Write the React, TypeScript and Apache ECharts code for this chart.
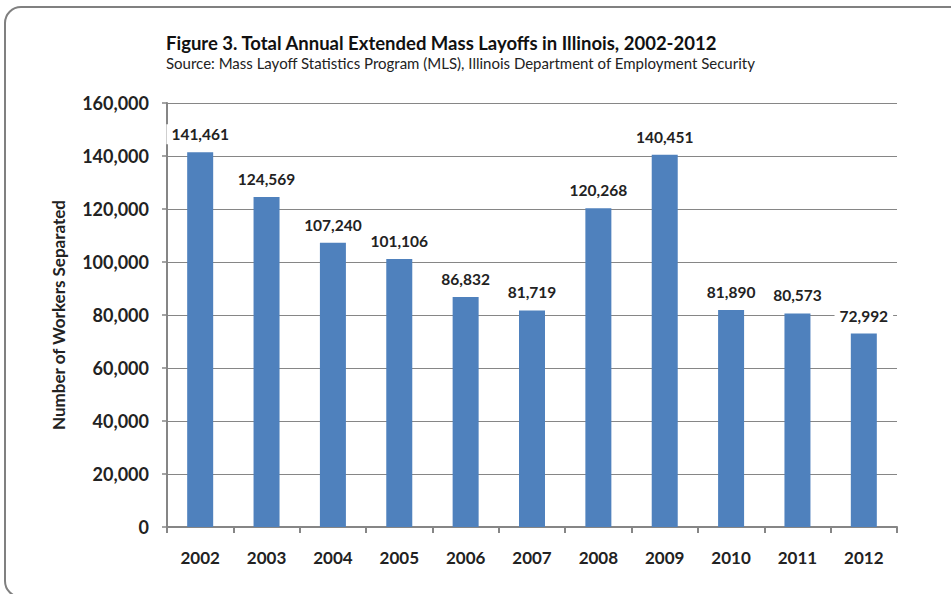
import React, { useEffect, useRef } from "react";
import * as echarts from "echarts";

const years = ["2002", "2003", "2004", "2005", "2006", "2007", "2008", "2009", "2010", "2011", "2012"];
const layoffs = [141461, 124569, 107240, 101106, 86832, 81719, 120268, 140451, 81890, 80573, 72992];
const titleText = "Figure 3. Total Annual Extended Mass Layoffs in Illinois, 2002-2012";
const subtitleText = "Source: Mass Layoff Statistics Program (MLS), Illinois Department of Employment Security";
const yAxisName = "Number of Workers Separated";

const FONT = "Lato, 'Open Sans', sans-serif";
const fmt = (v: number) => v.toLocaleString("en-US");

export default function App() {
  const ref = useRef<HTMLDivElement>(null);
  useEffect(() => {
    if (!ref.current) return;
    const chart = echarts.init(ref.current, null, { renderer: "svg" });
    chart.setOption({
      animation: false,
      backgroundColor: "#fff",
      textStyle: { fontFamily: FONT },
      graphic: [
        {
          type: "rect",
          shape: { x: 5, y: 7, width: 960, height: 590, r: 16 },
          style: { fill: "none", stroke: "#808080", lineWidth: 2 },
          silent: true,
        },
      ],
      title: {
        text: titleText,
        subtext: subtitleText,
        left: 161,
        top: 28,
        itemGap: 3,
        textStyle: { fontFamily: FONT, fontSize: 18.5, fontWeight: "bold", color: "#111" },
        subtextStyle: { fontFamily: FONT, fontSize: 15, color: "#222" },
      },
      grid: { left: 167, right: 54, top: 103, bottom: 67, containLabel: false },
      xAxis: {
        type: "category",
        data: years,
        axisLine: { lineStyle: { color: "#868686", width: 2 } },
        axisTick: { show: true, length: 6, lineStyle: { color: "#868686", width: 2 } },
        axisLabel: { margin: 22, fontFamily: FONT, fontSize: 17, fontWeight: "bold", color: "#222" },
      },
      yAxis: {
        type: "value",
        min: 0,
        max: 160000,
        interval: 20000,
        name: yAxisName,
        nameLocation: "middle",
        nameGap: 100,
        nameTextStyle: { fontFamily: FONT, fontSize: 17, fontWeight: "bold", color: "#222" },
        axisLine: { show: true, lineStyle: { color: "#868686", width: 2 } },
        axisTick: { show: true, length: 5, lineStyle: { color: "#868686", width: 1.5 } },
        splitLine: { lineStyle: { color: "#868686", width: 1.2 } },
        axisLabel: {
          margin: 18,
          fontFamily: FONT,
          fontSize: 18,
          fontWeight: "bold",
          color: "#222",
          formatter: (v: number) => fmt(v),
        },
      },
      series: [
        {
          type: "bar",
          data: layoffs,
          barWidth: 26,
          itemStyle: { color: "#4F81BD" },
          label: {
            show: true,
            position: "top",
            distance: 8,
            backgroundColor: "#fff",
            padding: [2, 5],
            fontFamily: FONT,
            fontSize: 15.5,
            fontWeight: "bold",
            color: "#222",
            formatter: (p: any) => fmt(p.value),
          },
        },
      ],
    });
    return () => chart.dispose();
  }, []);
  return <div ref={ref} style={{ position: "fixed", left: 0, top: 0, width: 951, height: 594 }} />;
}
